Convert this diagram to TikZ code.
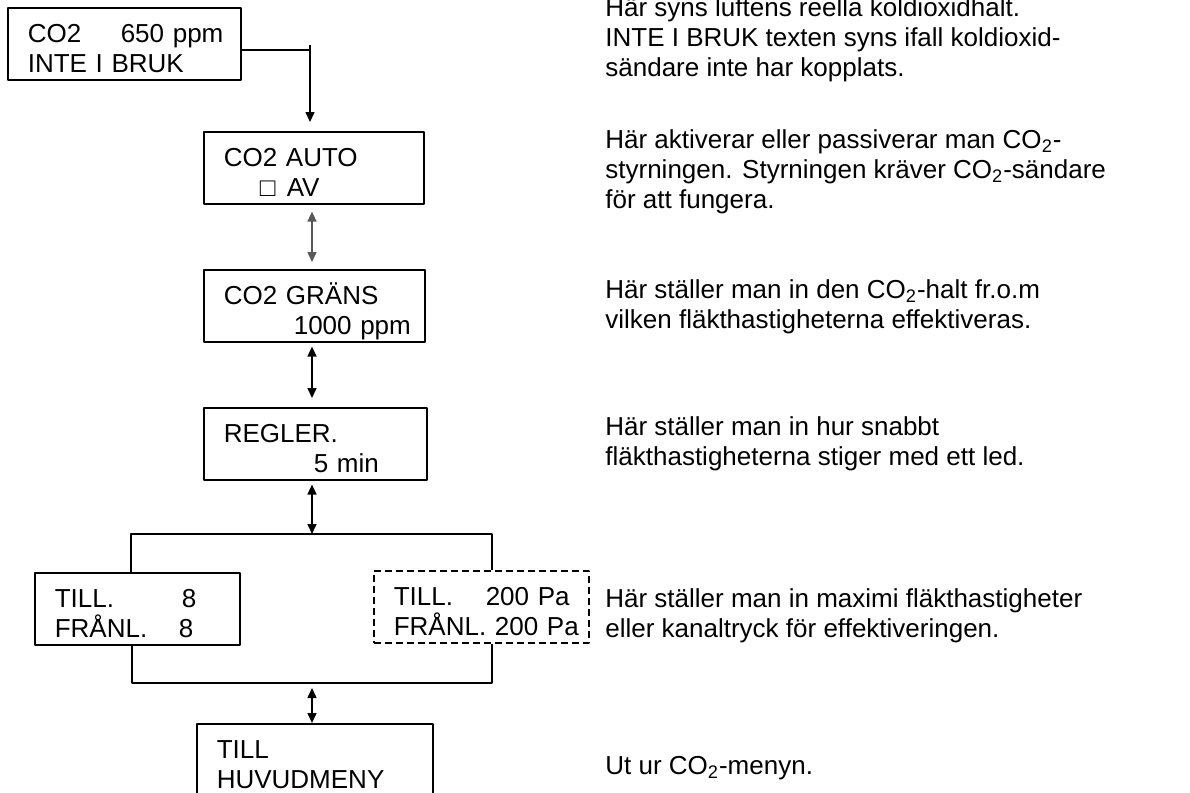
\documentclass[tikz,border=0pt]{standalone}
\usepackage{fontspec}
\setmainfont{Liberation Sans}
\usetikzlibrary{arrows.meta,calc,positioning}
\newcommand \menulines[2]
{\vbox to 36pt{\offinterlineskip\vskip17.5pt\hbox{\smash{#1}}\vskip15pt\hbox{\smash{#2}}\vfil}}
\tikzset{
  menubox/.style={draw, line width=0.8pt, anchor=north west, align=left,
    inner xsep=10pt, inner ysep=0pt, font=\fontsize{13}{15}\selectfont},
  note/.style={anchor=base west, align=left, inner sep=0pt,
    font=\fontsize{13}{15}\selectfont},
  link/.style={line width=0.75pt},
  both/.style={line width=0.75pt, {Triangle[length=5pt,width=4.5pt]}-{Triangle[length=5pt,width=4.5pt]}}
}

\begin{document}
\begin{tikzpicture}[x=0.5pt, y=-0.5pt, line join=round]
\useasboundingbox (0,0) rectangle (1190,793);
\clip (0,0) rectangle (1190,793);
% menu boxes
\node[menubox, text width=96.5pt] (co2ppm)   at (7,7)     {\menulines{\makebox[46.5pt][l]{CO2}650 ppm}{INTE I BRUK}};
\node[menubox, text width=90pt]   (co2auto)  at (203,131) {\menulines{CO2 AUTO}{\hspace*{18pt}\makebox[13.5pt][l]{□}AV}};
\node[menubox, text width=90.5pt] (co2grans) at (203,269) {\menulines{CO2 GRÄNS}{\hspace*{35pt}1000 ppm}};
\node[menubox, text width=91.5pt] (regler)   at (203,407) {\menulines{REGLER.}{\hspace*{45pt}5 min}};
\node[menubox, text width=82.5pt] (tillfranl) at (34,572) {\menulines{\makebox[63.5pt][l]{TILL.}8}{\makebox[62pt][l]{FRÅNL.}8}};
\node[menubox, dash pattern=on 3.5pt off 2pt, text width=87.5pt] (tillpa) at (373,570)
  {\menulines{\makebox[46pt][l]{TILL.}200 Pa}{FRÅNL. 200 Pa}};
\node[menubox, text width=98pt]   (huvudmeny) at (196,723) {\menulines{TILL}{HUVUDMENY}};
% connectors
\coordinate (knee) at (310,45);
\coordinate (col)  at (312,0);
\coordinate (busL) at (131,534);
\coordinate (busR) at (492,534);
\coordinate (lowL) at (132,683);
\coordinate (lowR) at (492,683);
\draw[link] ($(co2ppm.east)+(0,6)$) -- ($(co2ppm.east -| knee)+(0,6)$);
\draw[link, -{Triangle[length=5pt,width=4.5pt]}] (knee) -- ($(co2auto.north -| knee)+(0,-9)$);
\draw[both, black!65] ($(co2auto.south -| col)+(0,7)$) -- ($(co2grans.north -| col)+(0,-7)$);
\draw[both] ($(co2grans.south -| col)+(0,4)$) -- ($(regler.north -| col)+(0,-9)$);
\draw[both] ($(regler.south -| col)+(0,4)$) -- (col |- busL);
\draw[link] (tillfranl.north -| busL) -- (busL) -- (busR) -- (tillpa.north -| busR);
\draw[link] (tillfranl.south -| lowL) -- (lowL) -- (lowR) -- (tillpa.south -| lowR);
\draw[both] ($(col |- lowL)+(0,5)$) -- (col |- huvudmeny.north);
% explanations (base = last line)
\node[note] (n1) at (605,76)  {Här syns luftens reella koldioxidhalt.\\INTE I BRUK texten syns ifall koldioxid-\\sändare inte har kopplats.};
\node[note] (n2) at (605,208) {Här aktiverar eller passiverar man CO\textsubscript{2}-\\styrningen. Styrningen kräver CO\textsubscript{2}-sändare\\för att fungera.};
\node[note] (n3) at (605,328) {Här ställer man in den CO\textsubscript{2}-halt fr.o.m\\vilken fläkthastigheterna effektiveras.};
\node[note] (n4) at (605,465) {Här ställer man in hur snabbt\\fläkthastigheterna stiger med ett led.};
\node[note] (n5) at (605,637) {Här ställer man in maximi fläkthastigheter\\eller kanaltryck för effektiveringen.};
\node[note] (n6) at (605,774) {Ut ur CO\textsubscript{2}-menyn.};
\end{tikzpicture}
\end{document}
